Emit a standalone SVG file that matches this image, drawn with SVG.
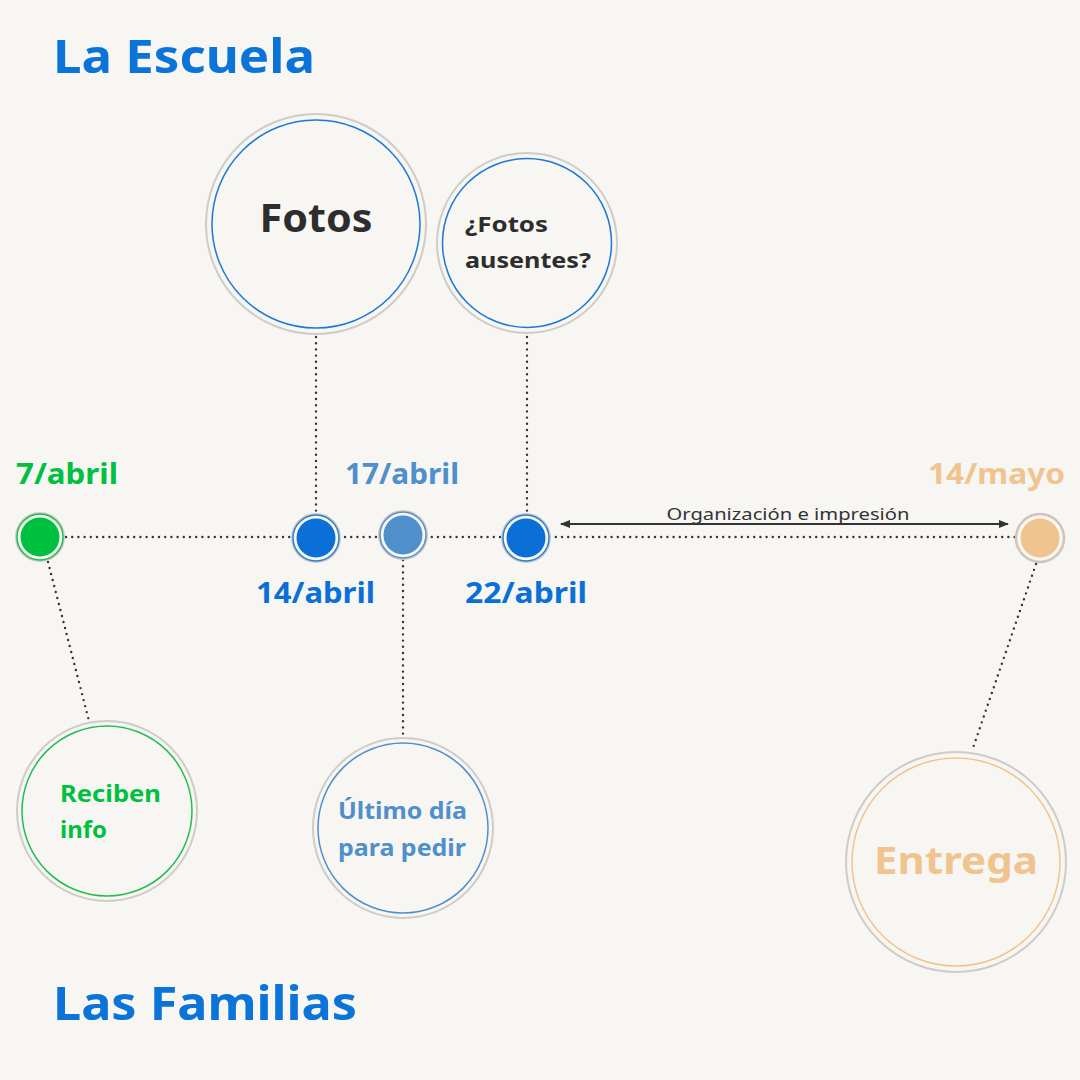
<svg xmlns="http://www.w3.org/2000/svg" width="1080" height="1080" viewBox="0 0 1080 1080">
<defs>
<style>
.t{font-family:"Noto Sans","Open Sans","DejaVu Sans",sans-serif;font-weight:700}
.title{font-size:47px;fill:#0a74d8}
.date{font-size:29px}
.dots{fill:none;stroke:#333;stroke-width:2.4;stroke-linecap:round;stroke-dasharray:0 6.2}
.halo{fill:#f7f6f3;stroke:#cfccc8;stroke-width:2}
</style>
<marker id="ah" viewBox="0 0 10 10" refX="9" refY="5" markerWidth="10" markerHeight="10" markerUnits="userSpaceOnUse" orient="auto-start-reverse"><path d="M0,1 L10,5 L0,9 Z" fill="#333"/></marker>
</defs>
<rect width="1080" height="1080" fill="#f7f6f3"/>

<g id="connectors">
<line class="dots" x1="66" y1="537" x2="1016" y2="537"/>
<line class="dots" x1="316" y1="337" x2="316" y2="514"/>
<line class="dots" x1="527" y1="337" x2="527" y2="514"/>
<line class="dots" x1="48" y1="562" x2="89" y2="721"/>
<line class="dots" x1="403" y1="560" x2="403" y2="736"/>
<line class="dots" x1="1036" y1="564" x2="973" y2="748"/>
<line x1="561" y1="524" x2="1008" y2="524" stroke="#333" stroke-width="2" marker-start="url(#ah)" marker-end="url(#ah)"/>
<text x="788" y="519.5" text-anchor="middle" font-family="Noto Sans,Open Sans,sans-serif" font-size="17" fill="#333" textLength="243" lengthAdjust="spacingAndGlyphs">Organización e impresión</text>
</g>

<g id="title-escuela"><text class="t title" x="53" y="73" textLength="262" lengthAdjust="spacingAndGlyphs">La Escuela</text></g>
<g id="title-familias"><text class="t title" x="53" y="1020" textLength="304" lengthAdjust="spacingAndGlyphs">Las Familias</text></g>

<g id="dot-7abril">
<circle cx="40" cy="537" r="24" fill="#f7f6f3" stroke="#cfccc8" stroke-width="2"/>
<circle cx="40" cy="537" r="23" fill="none" stroke="#1fbe4e" stroke-width="1.5"/>
<circle cx="40" cy="537" r="19.5" fill="#00c040"/>
<text class="t date" x="16" y="484" fill="#00c040" textLength="102" lengthAdjust="spacingAndGlyphs">7/abril</text>
</g>
<g id="dot-14abril">
<circle cx="316" cy="538" r="24" fill="#f7f6f3" stroke="#cfccc8" stroke-width="2"/>
<circle cx="316" cy="538" r="23" fill="none" stroke="#2f7fd0" stroke-width="1.5"/>
<circle cx="316" cy="538" r="19.5" fill="#0a70d8"/>
<text class="t date" x="256" y="603" fill="#0a70d8" textLength="119" lengthAdjust="spacingAndGlyphs">14/abril</text>
</g>
<g id="dot-17abril">
<circle cx="403" cy="535" r="24" fill="#f7f6f3" stroke="#cfccc8" stroke-width="2"/>
<circle cx="403" cy="535" r="23" fill="none" stroke="#5d8fc8" stroke-width="1.5"/>
<circle cx="403" cy="535" r="19.5" fill="#4f8fcc"/>
<text class="t date" x="345" y="484" fill="#4f8fcc" textLength="114" lengthAdjust="spacingAndGlyphs">17/abril</text>
</g>
<g id="dot-22abril">
<circle cx="526" cy="538" r="24" fill="#f7f6f3" stroke="#cfccc8" stroke-width="2"/>
<circle cx="526" cy="538" r="23" fill="none" stroke="#2f7fd0" stroke-width="1.5"/>
<circle cx="526" cy="538" r="19.5" fill="#0a70d8"/>
<text class="t date" x="465" y="603" fill="#0a70d8" textLength="122" lengthAdjust="spacingAndGlyphs">22/abril</text>
</g>
<g id="dot-14mayo">
<circle cx="1040" cy="538" r="24" fill="#f7f6f3" stroke="#cfc4b6" stroke-width="2.5"/>
<circle cx="1040" cy="538" r="19.5" fill="#f0c48e"/>
<text class="t date" x="928" y="484" fill="#f0c48e" textLength="137" lengthAdjust="spacingAndGlyphs">14/mayo</text>
</g>

<g id="node-fotos">
<circle class="halo" cx="316" cy="224" r="110"/>
<circle cx="316" cy="224" r="104" fill="none" stroke="#1a78d8" stroke-width="1.5"/>
<text class="t" x="316" y="232" text-anchor="middle" font-size="39" fill="#2d2d2d" textLength="113" lengthAdjust="spacingAndGlyphs">Fotos</text>
</g>
<g id="node-ausentes">
<circle class="halo" cx="527" cy="243" r="90"/>
<circle cx="527" cy="243" r="84.5" fill="none" stroke="#1a78d8" stroke-width="1.5"/>
<text class="t" font-size="22" fill="#2d2d2d"><tspan x="465" y="232" textLength="83" lengthAdjust="spacingAndGlyphs">¿Fotos</tspan><tspan x="465" y="268" textLength="126" lengthAdjust="spacingAndGlyphs">ausentes?</tspan></text>
</g>
<g id="node-reciben">
<circle class="halo" cx="107" cy="811" r="90"/>
<circle cx="107" cy="811" r="85" fill="none" stroke="#1fbe4e" stroke-width="1.5"/>
<text class="t" font-size="23" fill="#00c040"><tspan x="60" y="802" textLength="101" lengthAdjust="spacingAndGlyphs">Reciben</tspan><tspan x="60" y="838" textLength="47" lengthAdjust="spacingAndGlyphs">info</tspan></text>
</g>
<g id="node-ultimo">
<circle class="halo" cx="403" cy="828" r="90"/>
<circle cx="403" cy="828" r="85" fill="none" stroke="#4f8fcc" stroke-width="1.5"/>
<text class="t" font-size="23" fill="#4f8fcc"><tspan x="338" y="819" textLength="129" lengthAdjust="spacingAndGlyphs">Último día</tspan><tspan x="338" y="856" textLength="128" lengthAdjust="spacingAndGlyphs">para pedir</tspan></text>
</g>
<g id="node-entrega">
<circle class="halo" cx="956" cy="862" r="110"/>
<circle cx="956" cy="862" r="104" fill="none" stroke="#f0c48e" stroke-width="1.5"/>
<text class="t" x="956" y="874" text-anchor="middle" font-size="38" fill="#f0c48e" textLength="164" lengthAdjust="spacingAndGlyphs">Entrega</text>
</g>
</svg>
